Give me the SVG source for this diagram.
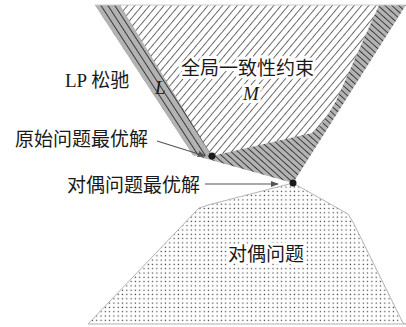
<svg xmlns="http://www.w3.org/2000/svg" width="406" height="327" viewBox="0 0 406 327">
<defs>
<style>
.t{font-family:"Liberation Serif","Noto Sans CJK SC",serif;font-size:19px;fill:#1a1a1a}
.i{font-family:"Liberation Serif",serif;font-style:italic;font-size:19px;fill:#1a1a1a}
.halo{paint-order:stroke;stroke:#fff;stroke-width:6px;stroke-linejoin:round}
.arr{stroke:#555;stroke-width:1.2;fill:none;marker-end:url(#ah)}
.dot{fill:#1a1a1a}
</style>
<pattern id="hM" patternUnits="userSpaceOnUse" width="5.6" height="10" patternTransform="rotate(40)">
<rect width="5.6" height="10" fill="#fff"/>
<line x1="0.5" y1="0" x2="0.5" y2="10" stroke="#333" stroke-width="0.75"/>
</pattern>
<pattern id="hR" patternUnits="userSpaceOnUse" width="4.6" height="10" patternTransform="rotate(-48)">
<rect width="4.6" height="10" fill="#b3b3b3"/>
<line x1="0.5" y1="0" x2="0.5" y2="10" stroke="#2a2a2a" stroke-width="0.9"/>
</pattern>
<pattern id="hL" patternUnits="userSpaceOnUse" width="5.8" height="10" patternTransform="rotate(-33)">
<rect width="5.8" height="10" fill="#b3b3b3"/>
<line x1="0.5" y1="0" x2="0.5" y2="10" stroke="#2a2a2a" stroke-width="0.9"/>
</pattern>
<pattern id="dots" patternUnits="userSpaceOnUse" width="4.3" height="4.3">
<rect width="4.3" height="4.3" fill="#fff"/>
<rect x="1.5" y="1.5" width="1.2" height="1.2" fill="#333"/>
</pattern>
<marker id="ah" viewBox="0 0 10 10" refX="9" refY="5" markerWidth="8" markerHeight="8" markerUnits="userSpaceOnUse" orient="auto">
<path d="M0,1 L10,5 L0,9 Z" fill="#555"/>
</marker>
</defs>
<rect width="406" height="327" fill="#fff"/>
<g id="lp-relaxation">
<polygon points="95,5 406,5 293,183 193,155" fill="url(#hR)"/>
<polygon points="95,5 120,5 212,156 193,155" fill="url(#hL)"/>
</g>
<g id="global-constraint">
<polygon points="120,5 212,156 312,133 322,124 336,101 379,5" fill="url(#hM)"/>
</g>
<g id="dual-problem">
<polygon points="293,183 208,205 199,208 88,324 406,324 403,323 353,222 348,214" fill="url(#dots)" stroke="#b5b5b5" stroke-width="1"/>
</g>
<line x1="95" y1="5" x2="406" y2="5" stroke="#ccc" stroke-width="1"/>
<g id="connectors">
<line class="arr" x1="157" y1="141" x2="205" y2="156"/>
<line class="arr" x1="205" y1="184" x2="278" y2="184"/>
</g>
<g id="primal-optimum"><circle class="dot" cx="212" cy="156" r="3.5"/></g>
<g id="dual-optimum"><circle class="dot" cx="293" cy="183" r="3.5"/></g>
<g id="labels">
<text class="t" x="65" y="87">LP 松驰</text>
<text class="i" x="155" y="94">L</text>
<text class="t halo" x="181" y="75">全局一致性约束</text>
<text class="i halo" x="243" y="100">M</text>
<text class="t" x="15" y="146">原始问题最优解</text>
<text class="t" x="67" y="192">对偶问题最优解</text>
<text class="t halo" x="228" y="261">对偶问题</text>
</g>
</svg>
